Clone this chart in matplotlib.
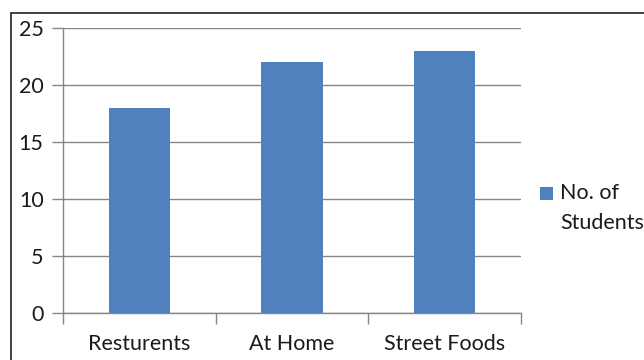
import matplotlib
matplotlib.use("Agg")
import matplotlib.pyplot as plt
from matplotlib.patches import Rectangle

categories = ["Resturents", "At Home", "Street Foods"]
students = [18, 22, 23]
yticks = [0, 5, 10, 15, 20, 25]
series_name = "No. of\nStudents"

plt.rcParams["font.family"] = ["Lato", "DejaVu Sans"]

W, H = 644, 360
fig = plt.figure(figsize=(W / 100, H / 100), dpi=100)
ax = fig.add_axes([63 / W, 1 - 313 / H, (521 - 63) / W, (313 - 28) / H])

blue = "#4f81bd"
grid_c = "#868686"
fs = 15.5
x = range(len(categories))
ax.bar(x, students, width=0.4, color=blue, label=series_name, zorder=3)

ax.set_xlim(-0.5, len(categories) - 0.5)
ax.set_ylim(0, 25)
ax.set_yticks(yticks)
ax.yaxis.grid(True, color=grid_c, linewidth=1)
ax.set_axisbelow(True)

ax.set_xticks(x)
ax.set_xticklabels(categories, fontsize=fs, color="#1a1a1a")
ax.tick_params(axis="x", length=0, pad=15)
# category boundary ticks
ax.set_xticks([-0.5, 0.5, 1.5, 2.5], minor=True)
ax.tick_params(axis="x", which="minor", length=8, color=grid_c, width=1)
ax.tick_params(axis="y", length=8, color=grid_c, width=1, labelsize=fs,
               labelcolor="#1a1a1a", pad=6)

for s in ["top", "right"]:
    ax.spines[s].set_visible(False)
for s in ["left", "bottom"]:
    ax.spines[s].set_color(grid_c)
    ax.spines[s].set_linewidth(1)

# legend drawn as marker + text
fig.patches.append(Rectangle((540 / W, 1 - 200 / H), 13 / W, 13 / H,
                             transform=fig.transFigure, facecolor=blue,
                             edgecolor="none"))
fig.text(560 / W, 1 - 193 / H, "No. of", fontsize=fs, va="center",
         ha="left", color="#1a1a1a")
fig.text(560 / W, 1 - 223 / H, "Students", fontsize=fs, va="center",
         ha="left", color="#1a1a1a")

# chart frame
fig.patches.append(Rectangle((10.5 / W, -0.05), 1.0, 1 - 12.5 / H + 0.05,
                             transform=fig.transFigure, facecolor="none",
                             edgecolor="#222222", linewidth=1.2))

fig.savefig("out.png", dpi=100)
